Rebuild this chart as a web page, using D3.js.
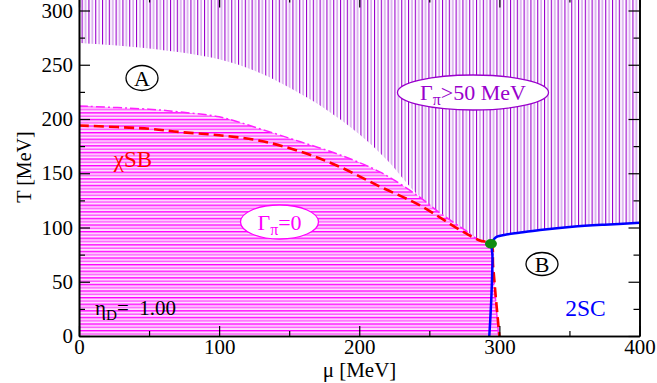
<!DOCTYPE html>
<html><head><meta charset="utf-8">
<script src="https://cdn.jsdelivr.net/npm/d3@7"></script>
</head><body>
<svg id="c" width="657" height="383"></svg>
<script>
// ---- data ----
const muTicks = [0, 100, 200, 300, 400];
const muMinor = [50, 150, 250, 350];
const tTicks = [0, 50, 100, 150, 200, 250, 300];
const tMinor = [25, 75, 125, 175, 225, 275];
// lower edge of the Gamma_pi > 50 MeV region (white gap "A" upper edge)
const gammaMu = [0, 50, 100, 130, 150, 175, 200, 220, 241];
const gammaT  = [270, 265, 255, 242, 229, 210, 186, 162, 131];
// Gamma_pi = 0 boundary (dash-dot)
const chiralMu = [0, 50, 72, 100, 129, 158, 186, 215, 241, 258, 275, 286, 294, 295.5, 297.5, 299.5];
const chiralT  = [212, 209, 206.5, 202, 191, 179, 167, 151, 130, 113, 98, 88, 85, 60, 30, 0];
// chiral transition (red dashed)
const critMu = [0, 50, 72, 100, 129, 158, 186, 215, 243, 272, 286, 294, 295.5, 297.5, 300];
const critT  = [194, 191, 188, 185, 180, 170, 156, 137.5, 120.6, 97.6, 88, 85, 65, 35, 0];
// 2SC boundaries (blue)
const scLowMu = [294, 295, 294.8, 294.2, 293.5, 292.8];
const scLowT  = [85, 75, 55, 33, 15, 0];
const scUpMu = [294, 296, 298, 305, 314, 329, 352, 375, 400];
const scUpT  = [85, 89, 91.4, 93.5, 95.1, 97.6, 100.6, 102.6, 104.3];
const cep = [294, 85];

// ---- layout ----
document.body.style.margin = "0";
const svg = d3.select("#c").style("display", "block");
const L = 79, R = 639.5, B = 336;
const x = d3.scaleLinear().domain([0, 400]).range([L, R]);
const y = d3.scaleLinear().domain([0, 312]).range([B, B - 312 * 1.085]);
const serif = "Liberation Serif";

const defs = svg.append("defs");
const pv = defs.append("pattern").attr("id", "vh").attr("patternUnits", "userSpaceOnUse")
  .attr("width", 6.8).attr("height", 10);
pv.append("rect").attr("x", 0).attr("y", 0).attr("width", 1.1).attr("height", 10).attr("fill", "#9900cc");
pv.append("rect").attr("x", 3.4).attr("y", 0).attr("width", 1.1).attr("height", 10).attr("fill", "#c47ee6");
const ph = defs.append("pattern").attr("id", "hh").attr("patternUnits", "userSpaceOnUse")
  .attr("width", 10).attr("height", 6.6);
ph.append("rect").attr("width", 10).attr("height", 6.6).attr("fill", "#ffe0ff");
ph.append("rect").attr("x", 0).attr("y", 0).attr("width", 10).attr("height", 1.4).attr("fill", "#ff00ff");
ph.append("rect").attr("x", 0).attr("y", 3.3).attr("width", 10).attr("height", 1.3).attr("fill", "#ff44ff");
defs.append("clipPath").attr("id", "clip").append("rect")
  .attr("x", L).attr("y", y(312)).attr("width", R - L).attr("height", B - y(312));

const zip = (a, b) => a.map((v, i) => [v, b[i]]);
const line = d3.line().x(d => x(d[0])).y(d => y(d[1])).curve(d3.curveCatmullRom.alpha(0.5));

const plot = svg.append("g").attr("clip-path", "url(#clip)");

// Gamma>50 region (vertical hatch)
const chiralPts = zip(chiralMu, chiralT);
const gammaPts = zip(gammaMu, gammaT);
const upperPts = gammaPts.concat(chiralPts.filter(d => d[0] > 241 && d[1] >= 85 && d[0] < 294))
  .concat(zip(scUpMu, scUpT));
plot.append("path")
  .attr("d", line(upperPts) + `L${x(400)},${y(312)}L${x(0)},${y(312)}Z`)
  .attr("fill", "url(#vh)");
// Gamma=0 region (horizontal hatch)
plot.append("path")
  .attr("d", line(chiralPts) + `L${x(0)},${y(0)}Z`)
  .attr("fill", "url(#hh)");
// dash-dot boundary
plot.append("path").attr("d", line(chiralPts)).attr("fill", "none")
  .attr("stroke", "#ff22ff").attr("stroke-width", 1.5).attr("stroke-dasharray", "9,3,2,3");
// red dashed
plot.append("path").attr("d", line(zip(critMu, critT))).attr("fill", "none")
  .attr("stroke", "#ff0000").attr("stroke-width", 2.6).attr("stroke-dasharray", "10,5");
// blue
plot.append("path").attr("d", line(zip(scLowMu, scLowT))).attr("fill", "none")
  .attr("stroke", "#0000ff").attr("stroke-width", 2.5);
plot.append("path").attr("d", line(zip(scUpMu, scUpT))).attr("fill", "none")
  .attr("stroke", "#0000ff").attr("stroke-width", 2.5);
// critical end point
plot.append("ellipse").attr("cx", x(cep[0])).attr("cy", y(cep[1])).attr("rx", 6).attr("ry", 4.8)
  .attr("fill", "#108c10");

// text helper
function txt(px, py, parts, size, color, anchor) {
  const t = svg.append("text").attr("x", px).attr("y", py).attr("font-family", serif).attr("font-size", size)
    .attr("fill", color).attr("text-anchor", anchor || "middle");
  parts.forEach(p => {
    const s = t.append("tspan").text(p.t);
    if (p.sub) s.attr("font-size", size * 0.72).attr("dy", p.dy);
    else if (p.dy) s.attr("dy", p.dy);
  });
  return t;
}
function oval(cx, cy, rx, ry, color) {
  svg.append("ellipse").attr("cx", cx).attr("cy", cy).attr("rx", rx).attr("ry", ry)
    .attr("fill", "#fff").attr("stroke", color).attr("stroke-width", 1.3);
}

oval(142, 78, 16, 12.5, "#000");
txt(142, 85.5, [{t: "A"}], 22, "#000");
oval(542, 264, 16, 11.5, "#000");
txt(542, 271.5, [{t: "B"}], 22, "#000");
oval(473, 92.5, 75.5, 17.5, "#9900cc");
txt(473, 100, [{t: "Γ"}, {t: "π", sub: true, dy: 5}, {t: ">50 MeV", dy: -5}], 22, "#9900cc");
oval(279.5, 222, 39, 17, "#ff00ff");
txt(279.5, 229.5, [{t: "Γ"}, {t: "π", sub: true, dy: 5}, {t: "=0", dy: -5}], 22, "#ff00ff");
txt(133, 167, [{t: "χSB"}], 23, "#ff0000");
txt(585.5, 315.5, [{t: "2SC"}], 23.5, "#0000ff");
txt(95, 315, [{t: "η"}, {t: "D", sub: true, dy: 5}, {t: "=\u00a0 1.00", dy: -5}], 21, "#000", "start");

// axes
function styleAxis(g, labels) {
  g.attr("font-family", serif);
  g.select(".domain").attr("stroke", "#000").attr("stroke-width", 1.6);
  g.selectAll(".tick line").attr("stroke", "#000").attr("stroke-width", 1.2);
  if (labels) g.selectAll("text").attr("font-family", serif).attr("font-size", 21).attr("fill", "#000");
  else g.selectAll("text").remove();
}
const gl = svg.append("g").attr("transform", `translate(${L},0)`)
  .call(d3.axisLeft(y).tickValues(tTicks).tickSize(-11).tickPadding(6).tickSizeOuter(0));
styleAxis(gl, true);
svg.append("g").attr("transform", `translate(${L},0)`)
  .call(d3.axisLeft(y).tickValues(tMinor).tickSize(-6).tickSizeOuter(0)).call(g => styleAxis(g, false));
const gb = svg.append("g").attr("transform", `translate(0,${B})`)
  .call(d3.axisBottom(x).tickValues(muTicks).tickSize(-10).tickPadding(3).tickSizeOuter(0));
styleAxis(gb, true);
svg.append("g").attr("transform", `translate(0,${B})`)
  .call(d3.axisBottom(x).tickValues(muMinor).tickSize(-5).tickSizeOuter(0)).call(g => styleAxis(g, false));
svg.append("g").attr("transform", `translate(${R},0)`)
  .call(d3.axisRight(y).tickValues(tTicks).tickSize(-11).tickSizeOuter(0)).call(g => styleAxis(g, false));
svg.append("g").attr("transform", `translate(${R},0)`)
  .call(d3.axisRight(y).tickValues(tMinor).tickSize(-6).tickSizeOuter(0)).call(g => styleAxis(g, false));
svg.append("g").attr("transform", `translate(0,${y(312)})`)
  .call(d3.axisTop(x).tickValues(muTicks).tickSize(-10).tickSizeOuter(0)).call(g => styleAxis(g, false));
svg.append("g").attr("transform", `translate(0,${y(312)})`)
  .call(d3.axisTop(x).tickValues(muMinor).tickSize(-5).tickSizeOuter(0)).call(g => styleAxis(g, false));

// axis titles
txt(359.5, 377, [{t: "μ [MeV]"}], 21, "#000");
svg.append("text").attr("transform", "translate(31,167) rotate(-90)")
  .attr("font-family", serif).attr("font-size", 20).attr("text-anchor", "middle")
  .attr("fill", "#000").text("T [MeV]");
</script>
</body></html>
